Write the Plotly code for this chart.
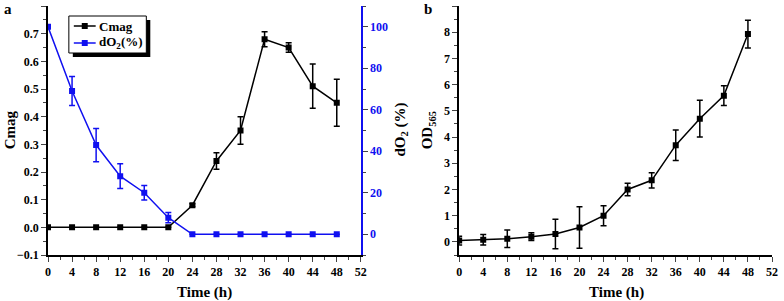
import plotly.graph_objects as go

time = [0, 4, 8, 12, 16, 20, 24, 28, 32, 36, 40, 44, 48]
cmag = [0, 0, 0, 0, 0, 0, 0.08, 0.24, 0.35, 0.68, 0.65, 0.51, 0.45]
cmag_err = [0, 0, 0, 0, 0, 0, 0.005, 0.03, 0.05, 0.027, 0.017, 0.08, 0.085]
do2 = [100, 69, 43, 28, 20, 8, 0, 0, 0, 0, 0, 0, 0]
do2_err = [0, 7, 8, 6, 3.5, 2.5, 0, 0, 0, 0, 0, 0, 0]
od565 = [0.05, 0.08, 0.12, 0.2, 0.3, 0.55, 1.0, 2.0, 2.35, 3.69, 4.70, 5.58, 7.93]
od565_err = [0.17, 0.2, 0.33, 0.15, 0.56, 0.79, 0.38, 0.24, 0.29, 0.58, 0.7, 0.38, 0.53]
x_ticks = [0, 4, 8, 12, 16, 20, 24, 28, 32, 36, 40, 44, 48, 52]
legend_labels = ["Cmag", "dO<sub>2</sub>(%)"]

BLUE = "#1010f0"
SERIF = "Liberation Serif"
W, H = 784, 301
ML, MR, MT, MB = 48, 7, 6, 46
PW, PH = W - ML - MR, H - MT - MB


def px(x):
    return (x - ML) / PW


def py(y):
    return 1 - (y - MT) / PH


tickfont = dict(family=SERIF, size=12, color="black", weight="bold")

fig = go.Figure()

fig.add_trace(go.Scatter(
    x=time, y=cmag, name="Cmag", mode="lines+markers",
    line=dict(color="black", width=1.5),
    marker=dict(symbol="square", size=6, color="black"),
    error_y=dict(type="data", array=cmag_err, color="black", thickness=1.5, width=3),
    xaxis="x", yaxis="y"))
fig.add_trace(go.Scatter(
    x=time, y=do2, name="dO<sub>2</sub>(%)", mode="lines+markers",
    line=dict(color=BLUE, width=1.5),
    marker=dict(symbol="square", size=6, color=BLUE),
    error_y=dict(type="data", array=do2_err, color=BLUE, thickness=1.5, width=3),
    xaxis="x", yaxis="y2"))
fig.add_trace(go.Scatter(
    x=time, y=od565, name="OD565", mode="lines+markers",
    line=dict(color="black", width=1.5),
    marker=dict(symbol="square", size=6, color="black"),
    error_y=dict(type="data", array=od565_err, color="black", thickness=1.5, width=3),
    xaxis="x2", yaxis="y3"))

dom1 = [0, px(363)]
dom2 = [px(462), 1]

xcommon = dict(range=[0, 52], tickvals=x_ticks, ticks="outside", ticklen=5, tickwidth=1.2,
               minor=dict(ticks="outside", ticklen=3, dtick=2, tick0=0, tickwidth=1.2),
               showline=True, linecolor="black", linewidth=1.5, showgrid=False,
               zeroline=False, tickfont=tickfont)

fig.update_layout(
    width=W, height=H, margin=dict(l=ML, r=MR, t=MT, b=MB),
    plot_bgcolor="white", paper_bgcolor="white", showlegend=False,
    xaxis=dict(domain=dom1, anchor="y", **xcommon),
    xaxis3=dict(domain=dom1, anchor="y", overlaying="x", side="top", range=[0, 52],
                tickvals=x_ticks, ticks="inside", ticklen=5, tickwidth=1.2,
                minor=dict(ticks="inside", ticklen=3, dtick=2, tick0=0, tickwidth=1.2),
                showticklabels=False, showline=True, linecolor="black", linewidth=1.5,
                showgrid=False, zeroline=False),
    xaxis2=dict(domain=dom2, anchor="y3", **xcommon),
    yaxis=dict(domain=[0, 1], anchor="x", range=[-0.1, 0.8], dtick=0.1, tick0=0,
               tickformat=".1f", ticks="outside", ticklen=5, tickwidth=1.2,
               minor=dict(ticks="outside", ticklen=3, dtick=0.05, tickwidth=1.2),
               showline=True, linecolor="black", linewidth=1.5, showgrid=False,
               zeroline=False, tickfont=tickfont),
    yaxis2=dict(anchor="x", overlaying="y", side="right", range=[-10, 110],
                tickvals=[0, 20, 40, 60, 80, 100], ticks="outside", ticklen=5, tickwidth=1.2,
                minor=dict(ticks="outside", ticklen=3, dtick=10, tick0=0, tickwidth=1.2),
                showline=True, linecolor=BLUE, linewidth=1.5, showgrid=False,
                zeroline=False, tickfont=dict(family=SERIF, size=12, color=BLUE, weight="bold")),
    yaxis3=dict(domain=[0, 1], anchor="x2", range=[-0.5, 9], dtick=1, tick0=0,
                ticks="outside", ticklen=5, tickwidth=1.2,
                minor=dict(ticks="outside", ticklen=3, dtick=0.5, tick0=0, tickwidth=1.2),
                showline=True, linecolor="black", linewidth=1.5, showgrid=False,
                zeroline=False, tickfont=tickfont),
)

# legend box (Origin style with drop shadow)
fig.add_shape(type="rect", xref="paper", yref="paper",
              x0=px(73), x1=px(151), y0=py(57), y1=py(20),
              fillcolor="black", line=dict(width=0), layer="above")
fig.add_shape(type="rect", xref="paper", yref="paper",
              x0=px(69), x1=px(147), y0=py(53), y1=py(16),
              fillcolor="white", line=dict(color="black", width=1), layer="above")
for i, (lab, col) in enumerate(zip(legend_labels, ["black", BLUE])):
    yy = 26 + 17 * i
    fig.add_shape(type="line", xref="paper", yref="paper",
                  x0=px(74), x1=px(96), y0=py(yy), y1=py(yy),
                  line=dict(color=col, width=1.5), layer="above")
    fig.add_shape(type="rect", xref="paper", yref="paper",
                  x0=px(82), x1=px(88), y0=py(yy + 3), y1=py(yy - 3),
                  fillcolor=col, line=dict(width=0), layer="above")
    fig.add_annotation(xref="paper", yref="paper", showarrow=False,
                       x=px(97), y=py(yy), xanchor="left", yanchor="middle", text=lab,
                       font=dict(family=SERIF, size=13, color="black", weight="bold"))

title_font = dict(family=SERIF, size=15, color="black", weight="bold")
ann = [
    dict(text="a", x=px(8), y=py(9), font=dict(family=SERIF, size=15, color="black", weight="bold")),
    dict(text="b", x=px(431), y=py(9), font=dict(family=SERIF, size=15, color="black", weight="bold")),
    dict(text="Time (h)", x=px(206), y=py(292), font=title_font),
    dict(text="Time (h)", x=px(620), y=py(292), font=title_font),
    dict(text="Cmag", x=px(10), y=py(130), textangle=-90, font=title_font),
    dict(text="dO<sub>2</sub> (%)", x=px(403), y=py(130), textangle=-90, font=title_font),
    dict(text="OD<sub>565</sub>", x=px(431), y=py(130), textangle=-90, font=title_font),
]
for a in ann:
    fig.add_annotation(xref="paper", yref="paper", showarrow=False,
                       xanchor="center", yanchor="middle", **a)

fig.write_html("out.html", config={"displayModeBar": False},
               post_script="document.body.style.margin='0px';")
